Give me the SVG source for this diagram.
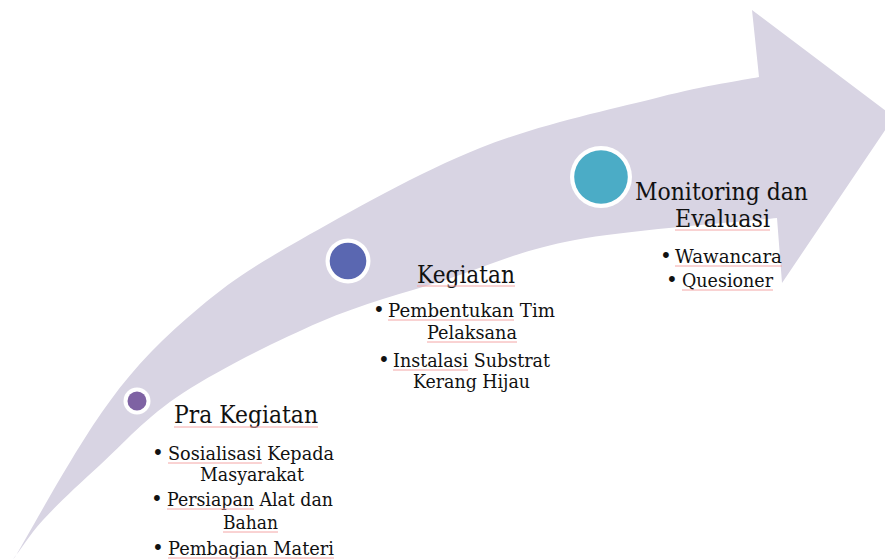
<svg xmlns="http://www.w3.org/2000/svg" width="885" height="560" viewBox="0 0 885 560">
<style>
.t{font-family:"DejaVu Serif","Liberation Serif",serif;fill:#111;}
.h{font-size:25px;}
.b{font-size:18.5px;}
.d{font-family:"DejaVu Serif","Liberation Serif",serif;fill:#111;font-size:20px;}
.ring{fill:#fff;}
.ul{stroke:#F4A6A6;stroke-width:1;fill:none;}
</style>
<rect width="885" height="560" fill="#fff"/>
<g id="arrow">
<path fill="#D8D4E3" d="M15,557 C30.8,530.8 77,445 110,401 C135,366 165,336 200,307 C231.7,280.3 253.3,266.5 300,240 C346.7,213.5 420,171.8 480,148 C540,124.2 613.5,108.8 660,97 C706.5,85.2 742.5,80.3 759,77 L752,10 L894,117 L782,283 L777,218 C743.3,221.7 630.3,229.7 575,240 C519.7,250.3 487.5,266.3 445,280 C402.5,293.7 363.7,303.2 320,322 C276.3,340.8 219.7,369.2 183,393 C146.3,416.8 123.3,443.8 100,465 C76.7,486.2 57.2,504.5 43,520 C28.8,535.5 19.7,551.7 13,559 Z"/>
</g>
<g id="node-pra">
<circle class="ring" cx="137" cy="401" r="13.5"/>
<circle cx="137" cy="401" r="9.5" fill="#7E62A3"/>
<text class="t h" x="174" y="423" textLength="144" lengthAdjust="spacingAndGlyphs">Pra Kegiatan</text>
<text class="d" x="152" y="460">•</text>
<text class="t b" x="168" y="460" textLength="166" lengthAdjust="spacingAndGlyphs">Sosialisasi Kepada</text>
<text class="t b" x="200" y="481" textLength="104" lengthAdjust="spacingAndGlyphs">Masyarakat</text>
<text class="d" x="151" y="506">•</text>
<text class="t b" x="167" y="506" textLength="166" lengthAdjust="spacingAndGlyphs">Persiapan Alat dan</text>
<text class="t b" x="223" y="529" textLength="55" lengthAdjust="spacingAndGlyphs">Bahan</text>
<text class="d" x="152" y="555">•</text>
<text class="t b" x="168" y="555" textLength="166" lengthAdjust="spacingAndGlyphs">Pembagian Materi</text>
<path class="ul" d="M174,427H318 M168,463H262 M167,509H254 M223,532H278 M168,558H334"/>
</g>
<g id="node-kegiatan">
<circle class="ring" cx="348" cy="261" r="22.5"/>
<circle cx="348" cy="261" r="18.3" fill="#5A67B1"/>
<text class="t h" x="417" y="283" textLength="98" lengthAdjust="spacingAndGlyphs">Kegiatan</text>
<text class="d" x="373" y="317">•</text>
<text class="t b" x="388" y="317" textLength="167" lengthAdjust="spacingAndGlyphs">Pembentukan Tim</text>
<text class="t b" x="427" y="339" textLength="90" lengthAdjust="spacingAndGlyphs">Pelaksana</text>
<text class="d" x="378" y="367">•</text>
<text class="t b" x="393" y="367" textLength="157" lengthAdjust="spacingAndGlyphs">Instalasi Substrat</text>
<text class="t b" x="413" y="388" textLength="117" lengthAdjust="spacingAndGlyphs">Kerang Hijau</text>
<path class="ul" d="M417,286H515 M388,320H514 M427,342H517 M393,370H468"/>
</g>
<g id="node-monitoring">
<circle class="ring" cx="601" cy="177" r="31"/>
<circle cx="601" cy="177" r="26.8" fill="#4BACC6"/>
<text class="t h" x="635" y="200" textLength="173" lengthAdjust="spacingAndGlyphs">Monitoring dan</text>
<text class="t h" x="675" y="227" textLength="95" lengthAdjust="spacingAndGlyphs">Evaluasi</text>
<text class="d" x="660" y="263">•</text>
<text class="t b" x="675" y="263" textLength="107" lengthAdjust="spacingAndGlyphs">Wawancara</text>
<text class="d" x="666" y="287">•</text>
<text class="t b" x="682" y="287" textLength="91" lengthAdjust="spacingAndGlyphs">Quesioner</text>
<path class="ul" d="M675,230H770 M675,266H782 M682,290H773"/>
</g>
<g id="connectors"></g>
</svg>
